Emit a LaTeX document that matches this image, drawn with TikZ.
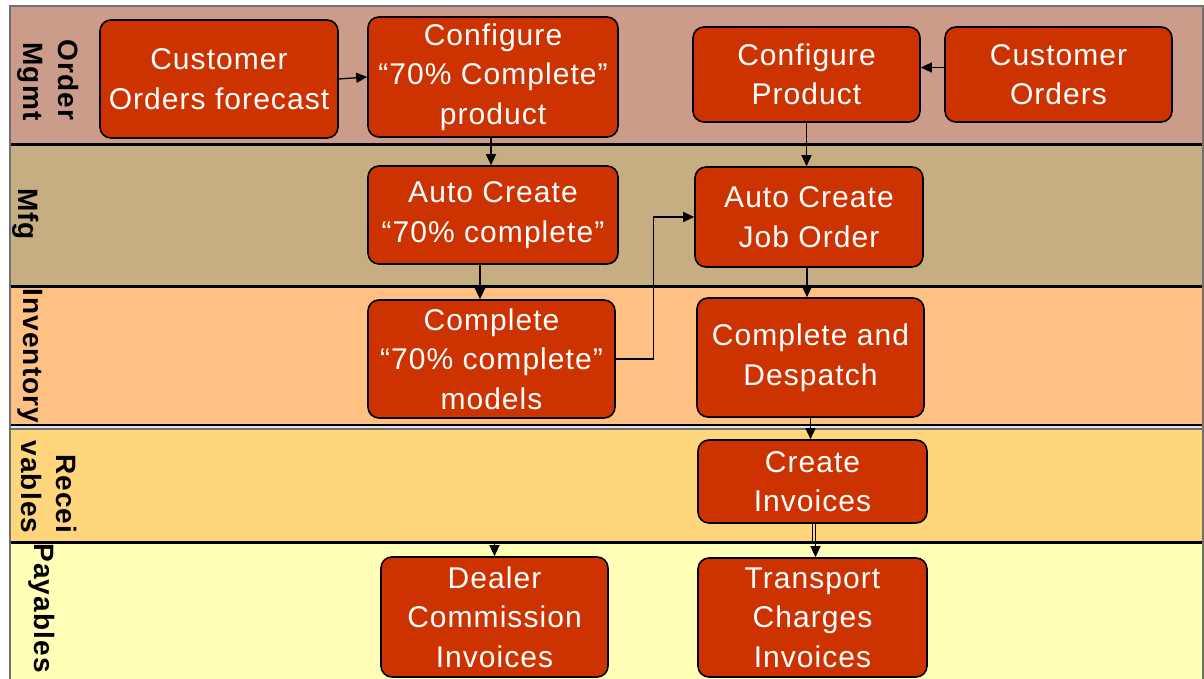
\documentclass[tikz,border=0pt]{standalone}
\usepackage{fontspec}
\setmainfont{Liberation Sans}
\newfontfamily\boxfont[LetterSpace=3.5]{Liberation Sans}
\newfontfamily\lblfont[LetterSpace=4]{Liberation Sans}
\usetikzlibrary{arrows.meta}
\definecolor{laneOM}{HTML}{CC9C8A}
\definecolor{laneMF}{HTML}{C7AE82}
\definecolor{laneIN}{HTML}{FFC084}
\definecolor{laneRE}{HTML}{FFD67C}
\definecolor{lanePA}{HTML}{FFFFB8}
\definecolor{boxred}{HTML}{CC3300}
\definecolor{framegray}{HTML}{707070}
\tikzset{
  box/.style={draw=black, line width=1.6pt, fill=boxred, rounded corners=11pt,
    text=white, font=\boxfont\fontsize{30}{39.5}\selectfont, align=center, inner sep=0pt},
  lanelbl/.style={rotate=-90, font=\lblfont\fontsize{28}{35}\selectfont\bfseries, align=right, inner sep=0pt},
  arr/.style={draw=black, line width=1.3pt, -{Triangle[length=11pt,width=10pt]}},
  lanesep/.style={draw=black, line width=3pt}
}
\begin{document}
\begin{tikzpicture}[x=1pt,y=-1pt]
\useasboundingbox (0,0) rectangle (1204,679);
\fill[white] (0,0) rectangle (1204,679);
% lanes
\fill[laneOM] (10,6) rectangle (1203,145);
\fill[laneMF] (10,145) rectangle (1203,286);
\fill[laneIN] (10,286) rectangle (1203,425);
\fill[laneRE] (10,429) rectangle (1203,542);
\fill[lanePA] (10,542) rectangle (1203,679);
\fill[white!80!gray] (10,425) rectangle (1203,429);
\draw[lanesep] (10,145) -- (1203,145);
\draw[lanesep] (10,286) -- (1203,286);
\draw[draw=black, line width=1.5pt] (10,425) -- (1203,425);
\draw[draw=framegray, line width=1.5pt] (10,429) -- (1203,429);
\draw[lanesep] (10,542) -- (1203,542);
\draw[draw=framegray, line width=1.4pt] (10,679) -- (10,6) -- (1203,6) -- (1203,679);
% lane labels
\node[lanelbl] (lOM) at (48,80) {Order\\Mgmt};
\node[lanelbl] (lMF) at (26,214) {Mfg};
\node[lanelbl] (lIN) at (30,356) {Inventory};
\node[lanelbl] (lRE) at (49,487) {Recei\\vables};
\node[lanelbl] (lPA) at (42,608) {Payables};
% boxes
\node[box, minimum width=238pt, minimum height=118pt] (cof) at (219,79) {Customer\\Orders forecast};
\node[box, minimum width=250pt, minimum height=120pt] (c70) at (493,77) {Configure\\“70\% Complete”\\product};
\node[box, minimum width=227pt, minimum height=95pt] (cp) at (806.5,74.5) {Configure\\Product};
\node[box, minimum width=227pt, minimum height=95pt] (co) at (1058.5,74.5) {Customer\\Orders};
\node[box, minimum width=250pt, minimum height=98pt] (ac70) at (493,215) {Auto Create\\“70\% complete”};
\node[box, minimum width=228pt, minimum height=100pt] (acjo) at (809,217) {Auto Create\\Job Order};
\node[box, minimum width=247pt, minimum height=118pt] (cm70) at (491.5,359) {Complete\\“70\% complete”\\models};
\node[box, minimum width=227pt, minimum height=119pt] (cd) at (810.5,357.5) {Complete and\\Despatch};
\node[box, minimum width=229pt, minimum height=83pt] (ci) at (812.5,481.5) {Create\\Invoices};
\node[box, minimum width=227pt, minimum height=120pt] (dci) at (494.5,617) {Dealer\\Commission\\Invoices};
\node[box, minimum width=229pt, minimum height=119pt] (tci) at (812.5,617.5) {Transport\\Charges\\Invoices};
% connectors
\draw[arr] (cof.east) -- (c70.west);
\draw[arr] ([yshift=7pt]co.west) -- ([yshift=7pt]cp.east);
\draw[arr] ([xshift=-2pt]c70.south) -- ([xshift=-2pt]ac70.north);
\draw[arr] (cp.south) -- (cp.south |- acjo.north);
\draw[arr] ([xshift=-13pt]ac70.south) -- ([xshift=-13pt]ac70.south |- cm70.north);
\draw[arr] (cm70.east) -- ++(38,0) |- (acjo.west);
\draw[arr] ([xshift=-2pt]acjo.south) -- ([xshift=-2pt]acjo.south |- cd.north);
\draw[arr] (cd.south) -- (cd.south |- ci.north);
\draw[arr] ([xshift=3pt]ci.south) -- ([xshift=3pt]tci.north);
\draw[arr] (ci.south) -- ++(0,18) -| (dci.north);
\end{tikzpicture}
\end{document}
